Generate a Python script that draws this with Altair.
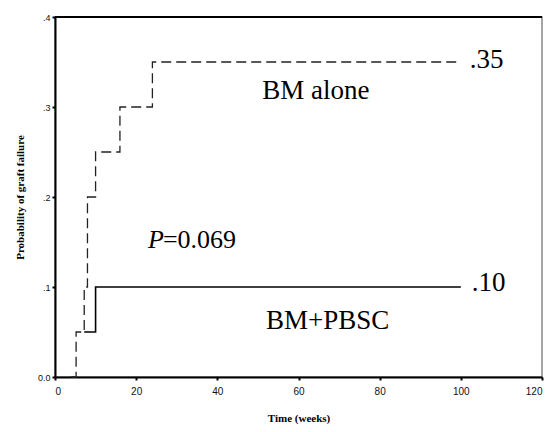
import altair as alt
import pandas as pd

# BM alone (dashed) step curve
bm_time = [4, 5.2, 7.2, 8, 10, 16, 24, 100]
bm_prob = [0, 0.05, 0.10, 0.20, 0.25, 0.30, 0.35, 0.35]
# BM+PBSC (solid) step curve
pb_time = [7.2, 10, 100]
pb_prob = [0.05, 0.10, 0.10]

ann_text = [".35", ".10", "BM alone", "BM+PBSC"]
ann_x = [102.2, 102.7, 64.3, 67.2]
ann_y = [0.352, 0.105, 0.318, 0.062]

bm = pd.DataFrame({"t": bm_time, "p": bm_prob})
pb = pd.DataFrame({"t": pb_time, "p": pb_prob})
ann = pd.DataFrame({"text": ann_text, "t": ann_x, "p": ann_y})
pval = pd.DataFrame({"t": [22.9, 26.6], "p": [0.152, 0.152], "s": ["P", "=0.069"]})

xs = alt.Scale(domain=[0, 120], nice=False, zero=False)
ys = alt.Scale(domain=[0, 0.4], nice=False)

x_enc = alt.X("t:Q", scale=xs, axis=alt.Axis(
    title="Time (weeks)", values=[0, 20, 40, 60, 80, 100, 120],
    titleFont="Liberation Serif", titleFontWeight="bold", titleFontSize=11,
    titlePadding=16, labelFont="Liberation Sans", labelFontSize=10,
    labelColor="#111", tickSize=3, tickWidth=2, domainWidth=2,
    domainColor="#000", tickColor="#000", grid=False, labelPadding=6))
y_enc = alt.Y("p:Q", scale=ys, axis=alt.Axis(
    title="Probability of graft failure", values=[0, 0.1, 0.2, 0.3, 0.4],
    labelExpr="datum.value == 0 ? '0.0' : replace(format(datum.value, '.1f'), '0.', '.')",
    titleFont="Liberation Serif", titleFontWeight="bold", titleFontSize=11,
    titlePadding=12, labelFont="Liberation Sans", labelFontSize=9,
    labelColor="#111", tickSize=3, tickWidth=2, domainWidth=2,
    domainColor="#000", tickColor="#000", grid=False, labelPadding=2))

l_bm = alt.Chart(bm).mark_line(interpolate="step-after", color="#222",
                               strokeDash=[10, 5], strokeWidth=1.3).encode(x=x_enc, y=y_enc)
l_pb = alt.Chart(pb).mark_line(interpolate="step-after", color="#000",
                               strokeWidth=1.6).encode(x="t:Q", y="p:Q")
txt_c = alt.Chart(ann).transform_filter("datum.text != '.35' && datum.text != '.10'").mark_text(
    font="Liberation Serif", fontSize=27, align="center", baseline="middle", color="#000").encode(
    x="t:Q", y="p:Q", text="text:N")
txt_l = alt.Chart(ann).transform_filter("datum.text == '.35' || datum.text == '.10'").mark_text(
    font="Liberation Serif", fontSize=27, align="left", baseline="middle", color="#000").encode(
    x="t:Q", y="p:Q", text="text:N")
p_it = alt.Chart(pval).transform_filter("datum.s == 'P'").mark_text(
    font="Liberation Serif", fontSize=26, fontStyle="italic", align="left",
    baseline="middle", color="#000").encode(x="t:Q", y="p:Q", text="s:N")
p_rest = alt.Chart(pval).transform_filter("datum.s != 'P'").mark_text(
    font="Liberation Serif", fontSize=26, align="left",
    baseline="middle", color="#000").encode(x="t:Q", y="p:Q", text="s:N")
top = alt.Chart(pb).mark_rule(color="#000", strokeWidth=2).encode(
    x=alt.value(0), x2=alt.value(487), y=alt.value(0))

chart = alt.layer(l_bm, l_pb, txt_c, txt_l, p_it, p_rest, top).properties(
    width=487, height=360,
    autosize=alt.AutoSizeParams(type="none"),
    padding={"left": 47, "top": 9, "right": 8, "bottom": 47},
    background="white",
).configure_view(stroke="#888", strokeWidth=1.5)

chart.save("out.html", embed_options={"renderer": "svg", "actions": False})
